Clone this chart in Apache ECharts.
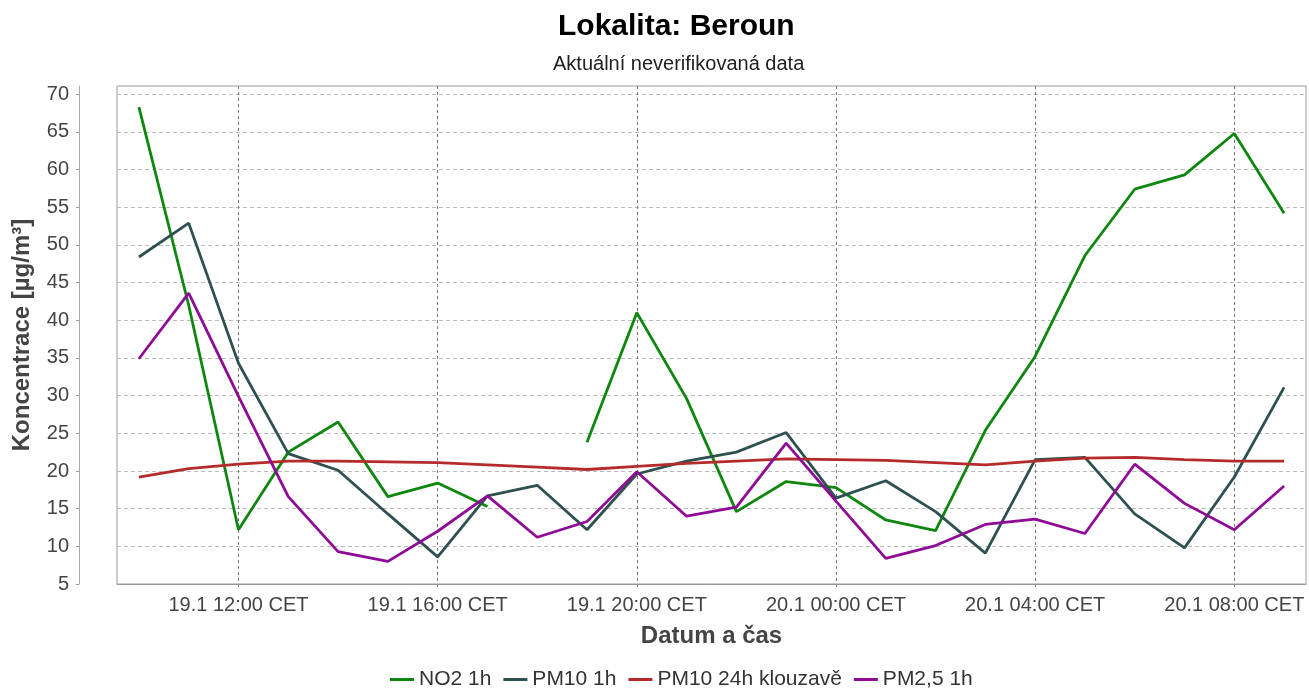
<!DOCTYPE html>
<html>
<head>
<meta charset="utf-8">
<script src="https://cdn.jsdelivr.net/npm/echarts@6/dist/echarts.min.js"></script>
<style>
  html, body { margin: 0; padding: 0; background: #fff; }
  #chart { width: 1309px; height: 690px; }
</style>
</head>
<body>
<div id="chart"></div>
<script>
// hodinove hodnoty, 19.1 10:00 .. 20.1 09:00
var hours = ['19.1 10:00','19.1 11:00','19.1 12:00','19.1 13:00','19.1 14:00','19.1 15:00',
             '19.1 16:00','19.1 17:00','19.1 18:00','19.1 19:00','19.1 20:00','19.1 21:00',
             '19.1 22:00','19.1 23:00','20.1 00:00','20.1 01:00','20.1 02:00','20.1 03:00',
             '20.1 04:00','20.1 05:00','20.1 06:00','20.1 07:00','20.1 08:00','20.1 09:00'];
var no2 = [68.3, 42.0, 12.2, 22.5, 26.5, 16.6, 18.4, 15.3, null, 23.8, 41.0, 29.6,
           14.6, 18.6, 17.8, 13.5, 12.1, 25.4, 35.2, 48.6, 57.4, 59.3, 64.8, 54.2];
var pm10 = [48.4, 52.9, 34.3, 22.3, 20.1, 14.3, 8.6, 16.7, 18.1, 12.2, 19.6, 21.3,
            22.5, 25.1, 16.4, 18.7, 14.6, 9.1, 21.5, 21.8, 14.3, 9.8, 19.2, 31.1];
var pm10_24h = [19.2, 20.3, 20.9, 21.3, 21.3, 21.2, 21.1, 20.8, 20.5, 20.2, 20.6, 21.0,
                21.3, 21.6, 21.5, 21.4, 21.1, 20.8, 21.3, 21.7, 21.8, 21.5, 21.3, 21.3];
var pm25 = [34.9, 43.6, 29.9, 16.6, 9.3, 8.0, 12.0, 16.7, 11.2, 13.3, 19.9, 14.0,
            15.2, 23.7, 16.0, 8.4, 10.1, 12.9, 13.6, 11.7, 20.9, 15.7, 12.2, 18.0];
var xTickLabels = ['19.1 12:00','19.1 16:00','19.1 20:00','20.1 00:00','20.1 04:00','20.1 08:00'];
var yTicks = [5,10,15,20,25,30,35,40,45,50,55,60,65,70];

var xTickIdx = xTickLabels.map(function(l){ return hours.indexOf(l); });

function pairs(arr) {
    return hours.map(function(h, i){ return [i, arr[i]]; });
}
function mkSeries(name, arr, color) {
    return {
        name: name,
        type: 'line',
        showSymbol: false,
        symbol: 'none',
        connectNulls: false,
        animation: false,
        lineStyle: { width: 2.8, color: color },
        itemStyle: { color: color },
        data: pairs(arr)
    };
}

var mychart = echarts.init(document.getElementById('chart'));
var font = 'Liberation Sans, Arial, sans-serif';
var option = {
    backgroundColor: '#fff',
    animation: false,
    title: [{
        text: 'Lokalita: Beroun',
        left: 553,
        top: 7,
        textStyle: { fontFamily: font, fontSize: 30, fontWeight: 'bold', color: '#000' }
    }, {
        text: 'Aktuální neverifikovaná data',
        left: 548,
        top: 49,
        textStyle: { fontFamily: font, fontSize: 20, fontWeight: 'normal', color: '#222' }
    }],
    legend: {
        top: 664,
        left: 385,
        icon: 'rect',
        itemWidth: 24,
        itemHeight: 3,
        itemGap: 12,
        textStyle: { fontFamily: font, fontSize: 21, color: '#333' },
        data: ['NO2 1h', 'PM10 1h', 'PM10 24h klouzavě', 'PM2,5 1h']
    },
    grid: {
        left: 117,
        right: 3,
        top: 86,
        bottom: 106,
        show: true,
        borderColor: '#999',
        borderWidth: 1,
        containLabel: false,
        outerBoundsMode: 'none'
    },
    xAxis: {
        type: 'value',
        min: -0.44,
        max: 23.44,
        name: 'Datum a čas',
        nameLocation: 'middle',
        nameGap: 40,
        nameTextStyle: { fontFamily: font, fontSize: 24, fontWeight: 'bold', color: '#444' },
        axisLine: { show: true, onZero: false, lineStyle: { color: '#999', width: 1 } },
        axisTick: { show: true, length: 3, customValues: xTickIdx, lineStyle: { color: '#888' } },
        axisLabel: {
            customValues: xTickIdx,
            margin: 11,
            fontFamily: font,
            fontSize: 20,
            color: '#444',
            formatter: function (v) {
                var k = xTickIdx.indexOf(Math.round(v));
                return k >= 0 ? xTickLabels[k] + ' CET' : '';
            }
        },
        splitLine: { show: true, lineStyle: { color: '#777', width: 1, type: [3, 3] } }
    },
    yAxis: {
        type: 'value',
        min: 5,
        max: 71.1,
        offset: 38,
        name: 'Koncentrace [µg/m³]',
        nameLocation: 'middle',
        nameGap: 45,
        nameTextStyle: { fontFamily: font, fontSize: 24, fontWeight: 'bold', color: '#444' },
        axisLine: { show: true, onZero: false, lineStyle: { color: '#aaa', width: 1 } },
        axisTick: { show: true, length: 3, customValues: yTicks, lineStyle: { color: '#999' } },
        axisLabel: {
            customValues: yTicks,
            margin: 10,
            fontFamily: font,
            fontSize: 20,
            color: '#444'
        },
        splitLine: { show: true, lineStyle: { color: '#bbb', width: 1, type: [4, 3] } }
    },
    series: [
        mkSeries('NO2 1h', no2, '#0f870f'),
        mkSeries('PM10 1h', pm10, '#2f5050'),
        mkSeries('PM10 24h klouzavě', pm10_24h, '#b52a2a'),
        mkSeries('PM2,5 1h', pm25, '#8f0b96')
    ]
};
mychart.setOption(option);
</script>
</body>
</html>
